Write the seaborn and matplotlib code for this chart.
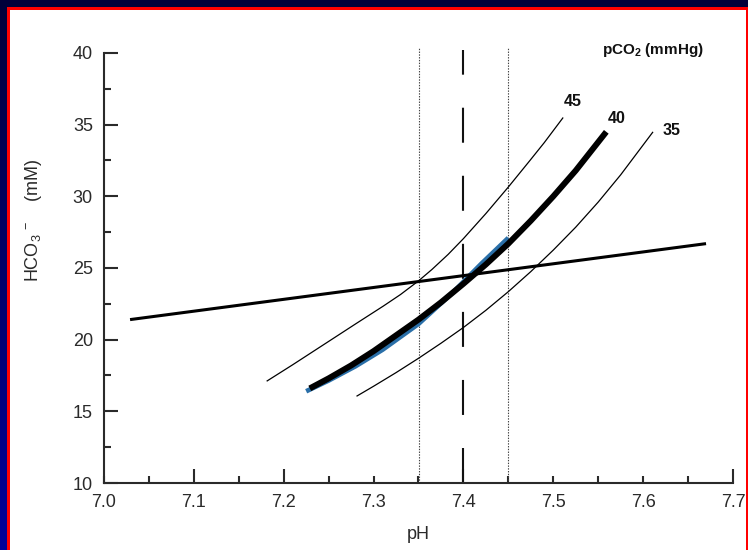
import numpy as np
import pandas as pd
import matplotlib
matplotlib.use("Agg")
import matplotlib.pyplot as plt
from matplotlib.patches import Rectangle
from matplotlib.colors import LinearSegmentedColormap
import seaborn as sns

# ---------------- data ----------------
ph_45 = [7.181, 7.21, 7.253, 7.28, 7.311, 7.33, 7.35, 7.365, 7.383, 7.40,
         7.425, 7.45, 7.474, 7.49, 7.511]
hco3_45 = [17.1, 18.25, 20.0, 21.1, 22.35, 23.15, 24.1, 24.9, 25.95, 27.05,
           28.8, 30.65, 32.5, 33.75, 35.5]

ph_40 = [7.229, 7.25, 7.275, 7.30, 7.325, 7.35, 7.375, 7.40, 7.425, 7.45,
         7.475, 7.50, 7.525, 7.559]
hco3_40 = [16.6, 17.3, 18.2, 19.2, 20.3, 21.4, 22.6, 23.9, 25.25, 26.7,
           28.3, 30.0, 31.8, 34.5]

ph_35 = [7.281, 7.30, 7.325, 7.35, 7.375, 7.40, 7.425, 7.45, 7.475, 7.50,
         7.525, 7.55, 7.575, 7.611]
hco3_35 = [16.05, 16.75, 17.7, 18.7, 19.75, 20.85, 22.05, 23.35, 24.75, 26.25,
           27.85, 29.6, 31.5, 34.5]

ph_obs = [7.225, 7.25, 7.28, 7.31, 7.35, 7.39, 7.42, 7.45]
hco3_obs = [16.4, 17.15, 18.15, 19.3, 21.1, 23.4, 25.3, 27.1]

ph_buffer = [7.029, 7.670]
hco3_buffer = [21.4, 26.7]

ph_normal_low, ph_normal, ph_normal_high = 7.35, 7.40, 7.45

curve_labels = ["45", "40", "35"]
label_ph = [7.5214, 7.5709, 7.6315]
label_hco3 = [36.30, 35.12, 34.28]

x_ticks = [7.0, 7.1, 7.2, 7.3, 7.4, 7.5, 7.6, 7.7]
x_ticklabels = ["7.0", "7.1", "7.2", "7.3", "7.4", "7.5", "7.6", "7.7"]
x_long = ["7.1", "7.2", "7.4", "7.7"]
y_ticks = [10, 15, 20, 25, 30, 35, 40]

# ---------------- style ----------------
sns.set_theme(style="white")
plt.rcParams["font.family"] = ["Liberation Sans", "DejaVu Sans"]
plt.rcParams["mathtext.fontset"] = "custom"
plt.rcParams["mathtext.rm"] = "Liberation Sans"
plt.rcParams["mathtext.bf"] = "Liberation Sans:bold"
plt.rcParams["mathtext.default"] = "regular"
plt.rcParams["lines.scale_dashes"] = False

W, H, DPI = 748, 550, 100
fig = plt.figure(figsize=(W / DPI, H / DPI), dpi=DPI)

# background: navy gradient, red frame, white panel
bg = fig.add_axes([0, 0, 1, 1], zorder=-5)
bg.set_axis_off()
cmap = LinearSegmentedColormap.from_list("navy", ["#00003a", "#00009a"])
grad = np.linspace(0, 1, 256).reshape(-1, 1)
bg.imshow(grad, cmap=cmap, extent=[0, W, H, 0], aspect="auto")
bg.set_xlim(0, W)
bg.set_ylim(H, 0)
bg.add_patch(Rectangle((7, 7), W - 7, H, facecolor="#ff0000", edgecolor="none"))
bg.add_patch(Rectangle((10, 10), 736.5, H, facecolor="white", edgecolor="none"))

ax = fig.add_axes([104 / W, (H - 483) / H, (733 - 104) / W, (483 - 53) / H])
ax.set_facecolor("none")

# curves
sns.lineplot(x=ph_obs, y=hco3_obs, ax=ax, color="#2a6fa8", linewidth=3.4,
             sort=False, estimator=None, zorder=2)
sns.lineplot(x=ph_45, y=hco3_45, ax=ax, color="black", linewidth=0.9,
             sort=False, estimator=None, zorder=3)
sns.lineplot(x=ph_35, y=hco3_35, ax=ax, color="black", linewidth=0.9,
             sort=False, estimator=None, zorder=3)
sns.lineplot(x=ph_40, y=hco3_40, ax=ax, color="black", linewidth=4.3,
             sort=False, estimator=None, zorder=4)
sns.lineplot(x=ph_buffer, y=hco3_buffer, ax=ax, color="black", linewidth=2.2,
             sort=False, estimator=None, zorder=4)
for ln in ax.lines:
    ln.set_solid_capstyle("butt")
    ln.set_solid_joinstyle("round")

# reference verticals
for xv in (ph_normal_low, ph_normal_high):
    ax.plot([xv, xv], [10, 40.45], color="#444444", linewidth=0.8,
            linestyle=(0, (1, 1)), clip_on=False, zorder=1)
ax.plot([ph_normal, ph_normal], [10, 40.2], color="#111111", linewidth=1.5,
        linestyle=(0, (25.2, 23.8)), clip_on=False, zorder=1)

# curve labels
for lab, xv, yv in zip(curve_labels, label_ph, label_hco3):
    ax.text(xv, yv, lab, fontsize=11.5, fontweight="bold", ha="center",
            va="baseline", color="#111111")
fig.text(653 / W, 1 - 50 / H, r"pCO$_\mathbf{2}$ (mmHg)", fontsize=11,
         fontweight="bold", ha="center", va="center", color="#111111")

# axes
ax.set_xlim(7.0, 7.7)
ax.set_ylim(10, 40)
for s in ("top", "right"):
    ax.spines[s].set_visible(False)
for s in ("left", "bottom"):
    ax.spines[s].set_color("#2a2a2a")
    ax.spines[s].set_linewidth(1.5)
    ax.spines[s].set_zorder(6)

ax.set_xticks(x_ticks)
ax.set_xticklabels(x_ticklabels)
ax.set_xticks(np.arange(7.05, 7.7, 0.1), minor=True)
ax.set_yticks(y_ticks)
ax.set_yticks(np.arange(12.5, 40, 5), minor=True)
ax.tick_params(axis="both", which="both", direction="in", color="#2a2a2a",
               width=1.5, labelcolor="#2a2a2a", labelsize=13)
ax.tick_params(axis="both", which="major", length=10)
ax.tick_params(axis="both", which="minor", length=5)
ax.tick_params(axis="x", which="major", pad=8)
ax.tick_params(axis="y", which="major", pad=8)
ax.tick_params(bottom=True, left=True, which="both")
for t, lab in zip(ax.xaxis.get_major_ticks(), x_ticklabels):
    if lab not in x_long:
        t.tick1line.set_markersize(5)

ax.set_xlabel("pH", fontsize=13, color="#2a2a2a", labelpad=11)
ax.set_ylabel("")
fig.text(34 / W, 1 - 220 / H, "HCO$_3$ $^{-}$    (mM)", rotation=90,
         fontsize=13, color="#2a2a2a", ha="center", va="center")

fig.savefig("out.png", dpi=DPI)
